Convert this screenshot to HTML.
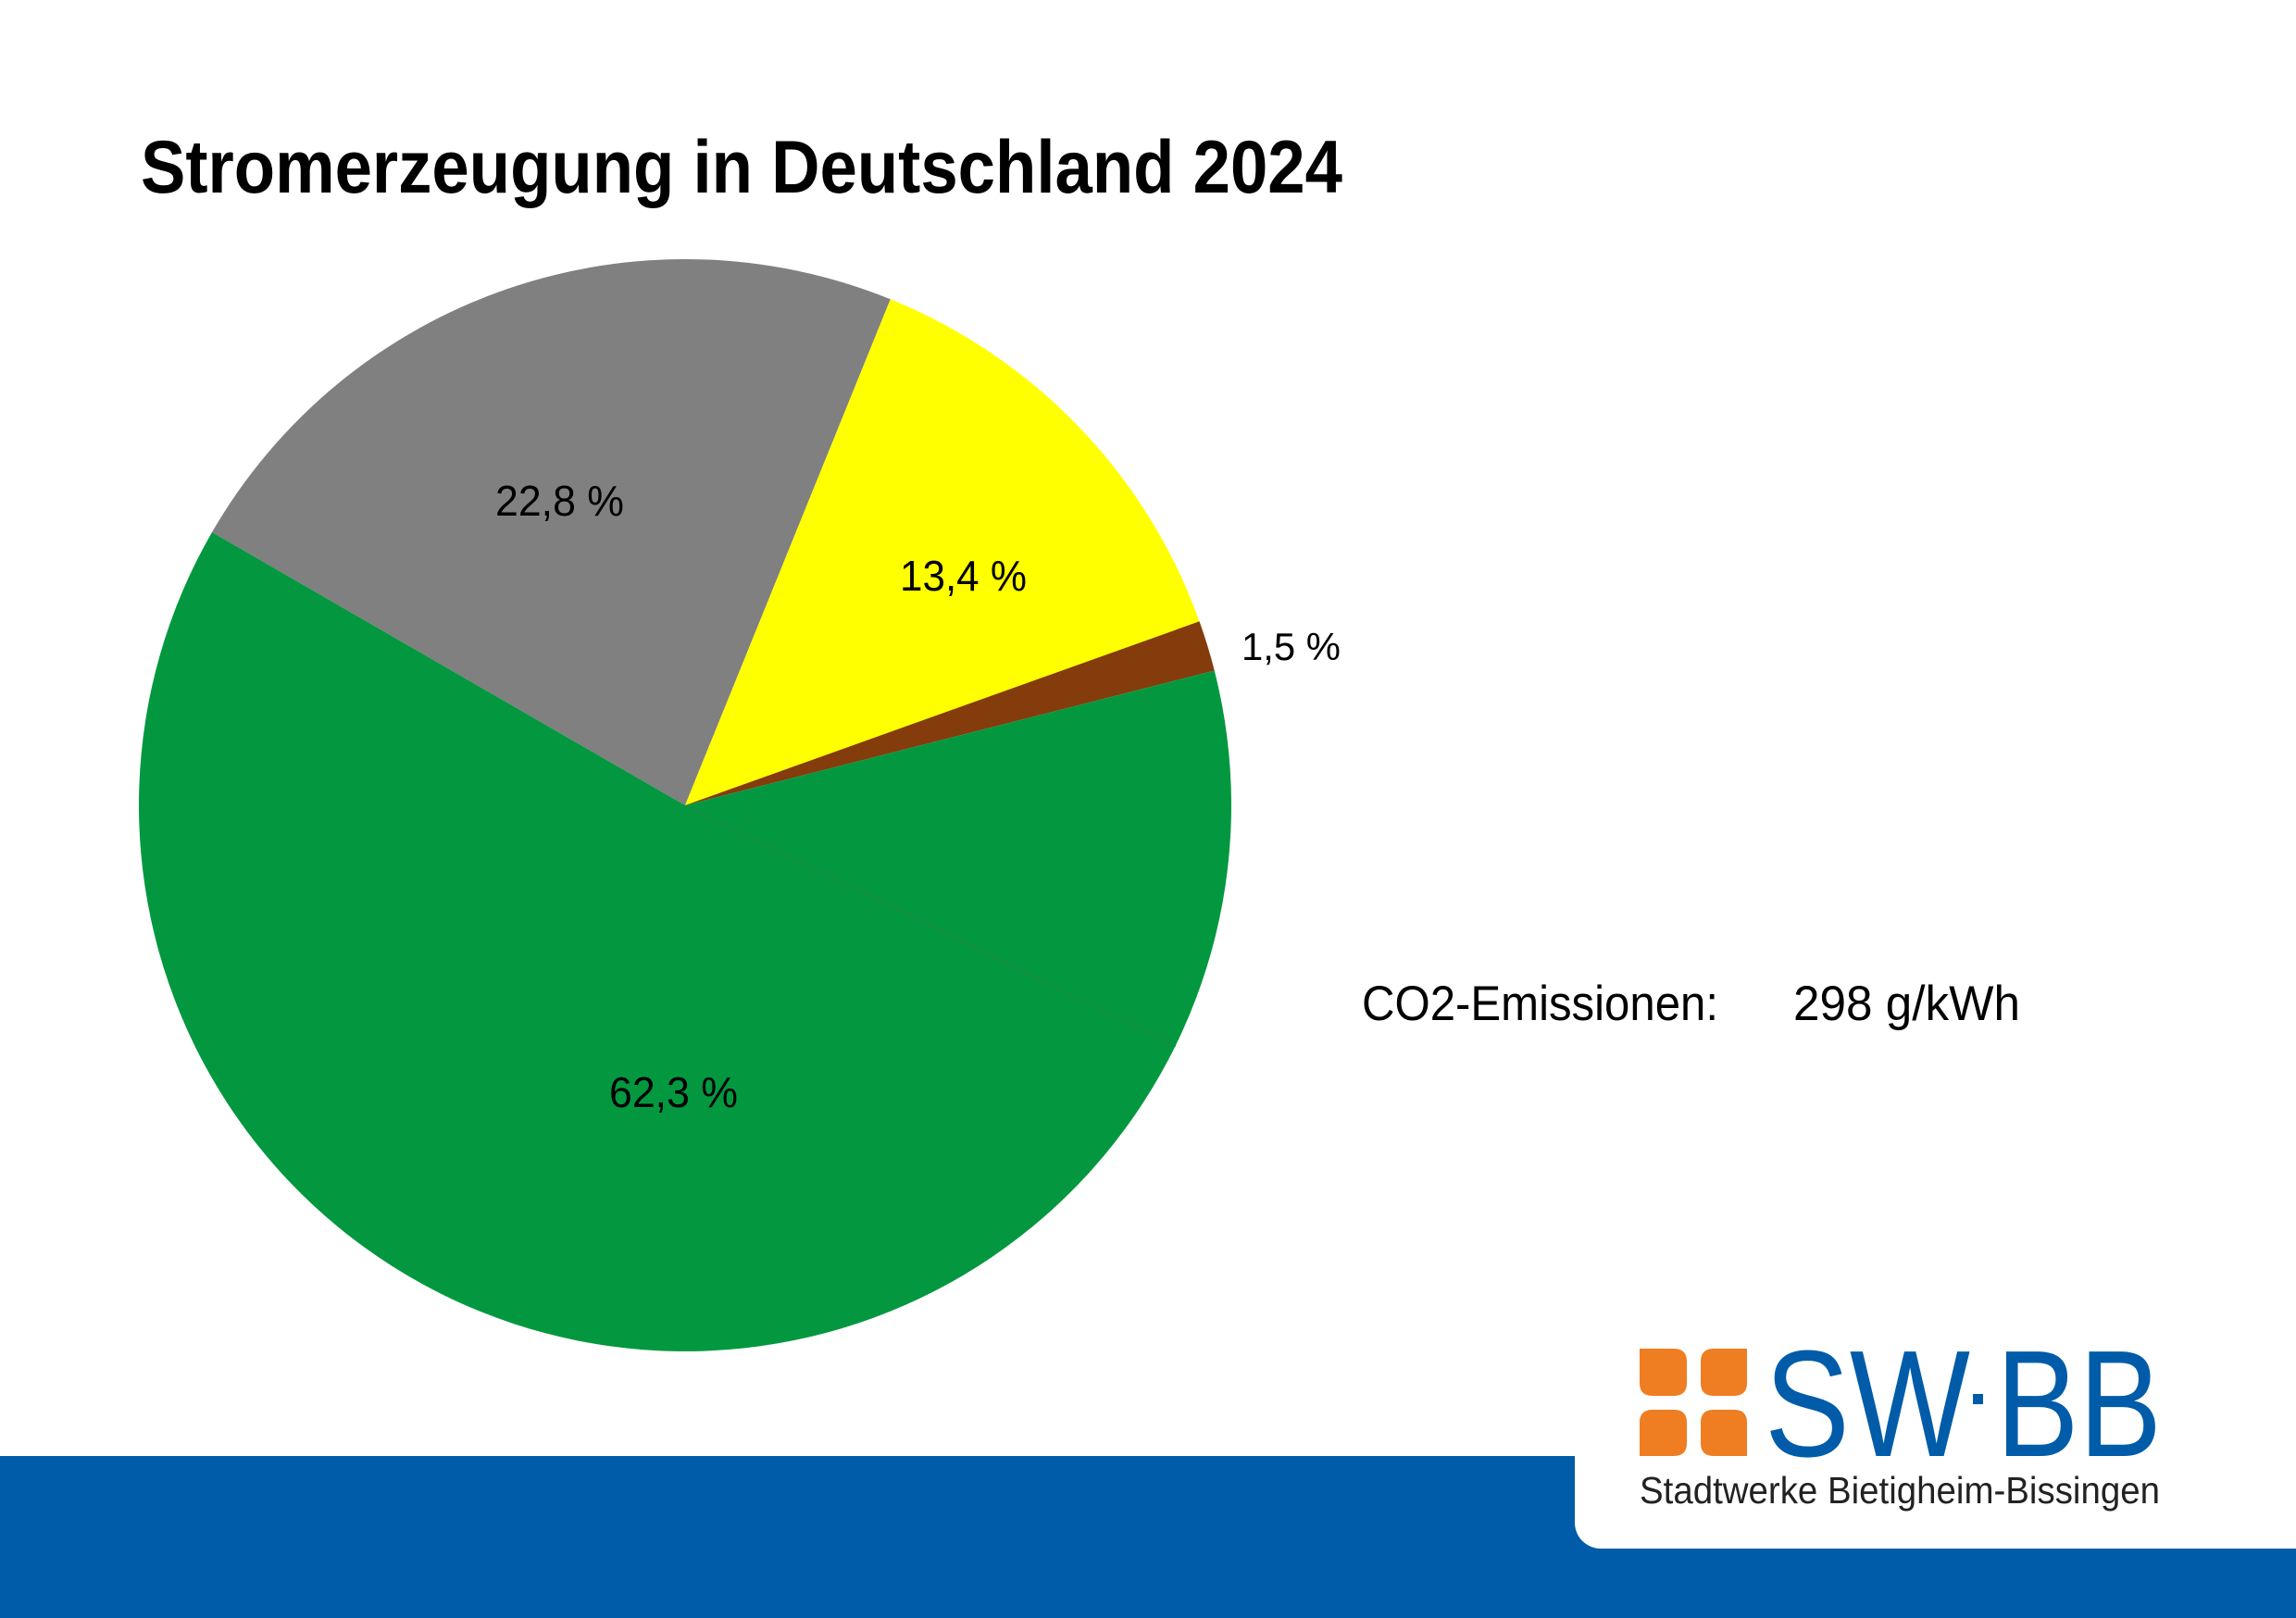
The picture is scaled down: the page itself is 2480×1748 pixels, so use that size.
<!DOCTYPE html>
<html>
<head>
<meta charset="utf-8">
<style>
  html, body { margin: 0; padding: 0; background: #ffffff; }
  body { width: 2480px; height: 1748px; overflow: hidden; }
  svg { display: block; }
</style>
</head>
<body>
<svg width="2480" height="1748" viewBox="0 0 2480 1748" xmlns="http://www.w3.org/2000/svg">
  <rect x="0" y="0" width="2480" height="1748" fill="#ffffff"/>

  <!-- Title -->
  <text x="152" y="208" font-family="'Liberation Sans', sans-serif" font-weight="bold" font-size="81" fill="#000" textLength="1298" lengthAdjust="spacingAndGlyphs">Stromerzeugung in Deutschland 2024</text>

  <!-- Pie -->
  <path d="M740,870 L229.0,575.0 A590,590 0 0 1 961.8,323.3 Z" fill="#808080"/>
  <path d="M740,870 L961.8,323.3 A590,590 0 0 1 1295.5,671.3 Z" fill="#ffff00"/>
  <path d="M740,870 L1295.5,671.3 A590,590 0 0 1 1311.8,724.5 Z" fill="#843c0c"/>
  <path d="M740,870 L1311.8,724.5 A590,590 0 1 1 229.0,575.0 Z" fill="#03983f"/>
  <line x1="740" y1="870" x2="1270" y2="1130" stroke="#1a8c44" stroke-width="1.5"/>

  <!-- Pie labels -->
  <text x="535" y="557" font-family="'Liberation Sans Narrow', 'Liberation Sans', sans-serif" font-size="46" fill="#000" textLength="139" lengthAdjust="spacingAndGlyphs">22,8 %</text>
  <text x="972" y="638" font-family="'Liberation Sans Narrow', 'Liberation Sans', sans-serif" font-size="46" fill="#000" textLength="137" lengthAdjust="spacingAndGlyphs">13,4 %</text>
  <text x="658" y="1196" font-family="'Liberation Sans Narrow', 'Liberation Sans', sans-serif" font-size="46" fill="#000" textLength="139" lengthAdjust="spacingAndGlyphs">62,3 %</text>
  <text x="1341" y="713" font-family="'Liberation Sans', sans-serif" font-size="42" fill="#000" textLength="107" lengthAdjust="spacingAndGlyphs">1,5 %</text>

  <!-- CO2 text -->
  <text x="1471" y="1102" font-family="'Liberation Sans', sans-serif" font-size="53" fill="#000" textLength="385" lengthAdjust="spacingAndGlyphs">CO2-Emissionen:</text>
  <text x="1937" y="1102" font-family="'Liberation Sans', sans-serif" font-size="53" fill="#000" textLength="245" lengthAdjust="spacingAndGlyphs">298 g/kWh</text>

  <!-- Bottom blue bar with white tab -->
  <rect x="0" y="1573" width="2480" height="175" fill="#005ca9"/>
  <path d="M1701,1573 L1701,1645 A28,28 0 0 0 1729,1673 L2480,1673 L2480,1573 Z" fill="#ffffff"/>

  <!-- Logo squares -->
  <path d="M1771,1457 L1808,1457 Q1822,1457 1822,1471 L1822,1494 Q1822,1508 1808,1508 L1785,1508 Q1771,1508 1771,1494 Z" fill="#ef7d22"/>
  <path d="M1851,1457 L1887,1457 L1887,1494 Q1887,1508 1873,1508 L1851,1508 Q1837,1508 1837,1494 L1837,1471 Q1837,1457 1851,1457 Z" fill="#ef7d22"/>
  <path d="M1785,1523 L1808,1523 Q1822,1523 1822,1537 L1822,1559 Q1822,1573 1808,1573 L1771,1573 L1771,1537 Q1771,1523 1785,1523 Z" fill="#ef7d22"/>
  <path d="M1851,1523 L1873,1523 Q1887,1523 1887,1537 L1887,1573 L1851,1573 Q1837,1573 1837,1559 L1837,1537 Q1837,1523 1851,1523 Z" fill="#ef7d22"/>

  <!-- Logo text -->
  <text x="1906" y="1573" font-family="'Liberation Sans', sans-serif" font-size="164" fill="#005ca9" textLength="222" lengthAdjust="spacingAndGlyphs">SW</text>
  <rect x="2131" y="1506" width="11" height="11" fill="#005ca9"/>
  <text x="2156" y="1573" font-family="'Liberation Sans', sans-serif" font-size="164" fill="#005ca9" textLength="179" lengthAdjust="spacingAndGlyphs">BB</text>
  <text x="1771" y="1624" font-family="'Liberation Sans', sans-serif" font-size="41" fill="#222" textLength="562" lengthAdjust="spacingAndGlyphs">Stadtwerke Bietigheim-Bissingen</text>
</svg>
</body>
</html>
